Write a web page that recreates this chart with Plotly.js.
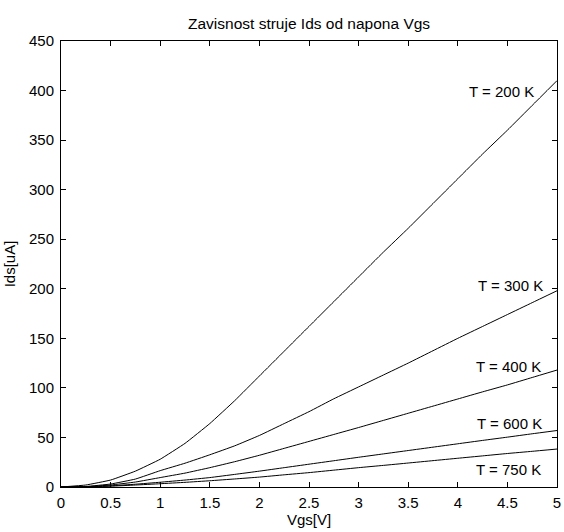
<!DOCTYPE html>
<html>
<head>
<meta charset="utf-8">
<script src="https://cdn.plot.ly/plotly-3.0.1.min.js"></script>
<style>
html,body{margin:0;padding:0;background:#fff;}
#chart{width:564px;height:532px;}
</style>
</head>
<body>
<div id="chart"></div>
<script>
const vgs = [0,0.25,0.5,0.75,1,1.25,1.5,1.75,2,2.25,2.5,2.75,3,3.25,3.5,3.75,4,4.25,4.5,4.75,5];
const ids200 = [0,2,7,16,28,44,64,87,112,137,162,187,212,237,261,286,311,336,360,385,410];
const ids300 = [0,0.5,3,8,16.5,24,32.5,41.5,52,64,76,89,101,113,125,137.5,150,162,174,186,198];
const ids400 = [0,0.3,2,5,9.5,14,19.5,25.5,32,39,46,53,60,67.2,74.4,81.6,88.8,96,103,110.5,118];
const ids600 = [0,0.2,1.2,2.8,4.8,7,9.5,12.7,16,19.5,23,26.5,30,33.4,36.8,40.2,43.6,47,50.3,53.7,57];
const ids750 = [0,0.1,0.8,2,3.3,4.7,6.3,8.1,10,12.3,14.5,17,19.5,21.8,24.2,26.6,29,31.4,33.8,36,38.3];
const seriesNames = ["T = 200 K","T = 300 K","T = 400 K","T = 600 K","T = 750 K"];
const seriesData = [ids200, ids300, ids400, ids600, ids750];

const FONT = "Liberation Sans, Arial, Helvetica, sans-serif";

const traces = seriesData.map((ys, i) => ({
  x: vgs, y: ys, type: "scatter", mode: "lines", name: seriesNames[i],
  line: {color: "#000", width: 1, shape: "spline", smoothing: 0.3},
  hoverinfo: "skip"
}));

const labelPos = [
  {x: 4.79, y: 399},
  {x: 4.88, y: 203.5},
  {x: 4.86, y: 121.5},
  {x: 4.87, y: 64},
  {x: 4.86, y: 17.3}
];

const annotations = seriesNames.map((t, i) => ({
  text: t, x: labelPos[i].x, y: labelPos[i].y, xref: "x", yref: "y",
  xanchor: "right", yanchor: "middle", showarrow: false,
  font: {family: FONT, size: 15, color: "#000"}
}));

const axisCommon = {
  showline: true, linecolor: "#000", linewidth: 1, mirror: "ticks",
  ticks: "inside", ticklen: 5, tickcolor: "#000", tickwidth: 1,
  showgrid: false, zeroline: false,
  tickfont: {family: FONT, size: 15, color: "#000"}
};

const layout = {
  width: 564, height: 532,
  paper_bgcolor: "#fff", plot_bgcolor: "#fff",
  margin: {l: 61, r: 7, t: 41, b: 45},
  showlegend: false,
  title: {text: "Zavisnost struje Ids od napona Vgs", font: {family: FONT, size: 15.5, color: "#000"},
          x: 0.548, xanchor: "center", y: 0.955, yanchor: "middle"},
  xaxis: Object.assign({}, axisCommon, {
    range: [0, 5], dtick: 0.5, tick0: 0, ticklabelstandoff: 2,
    title: {text: "Vgs[V]", font: {family: FONT, size: 15, color: "#000"}, standoff: 2}
  }),
  yaxis: Object.assign({}, axisCommon, {
    range: [0, 450], dtick: 50, tick0: 0, ticklabelstandoff: 3,
    title: {text: "Ids[uA]", font: {family: FONT, size: 15, color: "#000"}, standoff: 9}
  }),
  annotations: annotations
};

Plotly.newPlot("chart", traces, layout, {staticPlot: true, displayModeBar: false});
</script>
</body>
</html>
